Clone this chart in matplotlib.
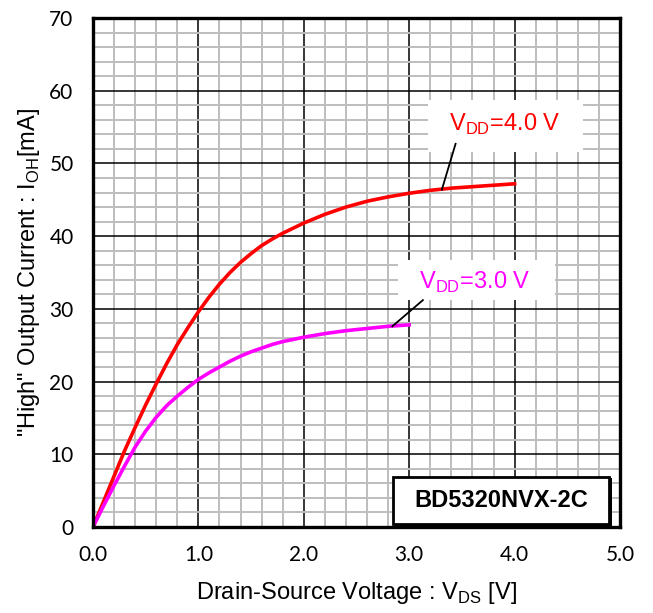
import matplotlib
matplotlib.use("Agg")
import matplotlib.pyplot as plt
from matplotlib.patches import Rectangle
from matplotlib.ticker import MultipleLocator, FormatStrFormatter

vds_40 = [0, 0.1, 0.2, 0.3, 0.4, 0.5, 0.6, 0.7, 0.8, 0.9, 1.0, 1.1, 1.2, 1.3,
          1.4, 1.5, 1.6, 1.7, 1.8, 1.9, 2.0, 2.2, 2.4, 2.6, 2.8, 3.0, 3.2,
          3.4, 3.6, 3.8, 4.0]
ioh_40 = [0, 3.5, 7.0, 10.5, 13.7, 16.8, 19.7, 22.5, 25.1, 27.4, 29.6, 31.6,
          33.4, 35.0, 36.4, 37.6, 38.7, 39.6, 40.4, 41.1, 41.8, 43.0, 44.0,
          44.8, 45.4, 45.9, 46.3, 46.6, 46.8, 47.0, 47.2]

vds_30 = [0, 0.1, 0.2, 0.3, 0.4, 0.5, 0.6, 0.7, 0.8, 0.9, 1.0, 1.1, 1.2, 1.3,
          1.4, 1.5, 1.6, 1.7, 1.8, 1.9, 2.0, 2.2, 2.4, 2.6, 2.8, 3.0]
ioh_30 = [0, 2.9, 5.7, 8.4, 11.0, 13.2, 15.1, 16.7, 18.0, 19.2, 20.3, 21.2,
          22.0, 22.8, 23.5, 24.1, 24.6, 25.1, 25.5, 25.8, 26.1, 26.6, 27.0,
          27.3, 27.6, 27.8]

label_40 = r'V$_{\mathregular{DD}}$=4.0 V'
label_30 = r'V$_{\mathregular{DD}}$=3.0 V'
part_name = 'BD5320NVX-2C'

# tick labels in Lato, everything else in an Arial-like face
plt.rcParams['font.family'] = ['Lato', 'DejaVu Sans']
txt_font = ['Liberation Sans', 'DejaVu Sans']

fig = plt.figure(figsize=(6.53, 6.13), dpi=100)
ax = fig.add_axes([93 / 653, 1 - 527 / 613, 527 / 653, 509 / 613])

ax.set_xlim(0, 5)
ax.set_ylim(0, 70)
ax.xaxis.set_major_locator(MultipleLocator(1.0))
ax.xaxis.set_minor_locator(MultipleLocator(0.2))
ax.yaxis.set_major_locator(MultipleLocator(10))
ax.yaxis.set_minor_locator(MultipleLocator(2))
ax.xaxis.set_major_formatter(FormatStrFormatter('%.1f'))

ax.grid(True, which='minor', color='#bdbdbd', linewidth=1.4)
ax.grid(True, which='major', color='black', linewidth=1.1)
ax.set_axisbelow(True)

ax.tick_params(which='both', length=0, labelsize=15)
ax.tick_params(axis='x', pad=13)
ax.tick_params(axis='y', pad=14)

for sp in ax.spines.values():
    sp.set_linewidth(2.4)
    sp.set_zorder(5)

ax.plot(vds_40, ioh_40, color='#ff0000', linewidth=2.6, zorder=3,
        solid_joinstyle='round')
ax.plot(vds_30, ioh_30, color='#ff00ff', linewidth=2.6, zorder=3,
        solid_joinstyle='round')

# labels with leader lines
ax.add_patch(Rectangle((3.18, 51.6), 1.47, 7.1, facecolor='white',
                       edgecolor='none', zorder=3))
ax.plot([3.44, 3.31], [52.7, 46.4], color='black', linewidth=1.3, zorder=4)
ax.text(3.91, 55.3, label_40, color='#ff0000', fontsize=17, family=txt_font,
        ha='center', va='center', zorder=4)

ax.add_patch(Rectangle((2.89, 31.2), 1.49, 5.5, facecolor='white',
                       edgecolor='none', zorder=3))
ax.plot([3.13, 2.84], [31.2, 27.6], color='black', linewidth=1.3, zorder=4)
ax.text(3.62, 33.7, label_30, color='#ff00ff', fontsize=17, family=txt_font,
        ha='center', va='center', zorder=4)

# part number box with a small drop shadow
ax.add_patch(Rectangle((2.87, 0.2), 2.05, 6.5, facecolor='black',
                       edgecolor='none', zorder=4))
ax.add_patch(Rectangle((2.85, 0.4), 2.05, 6.5, facecolor='white',
                       edgecolor='black', linewidth=2.0, zorder=4))
ax.text(3.87, 3.65, part_name, fontsize=17, fontweight='bold', family=txt_font,
        ha='center', va='center', zorder=5)

ax.set_xlabel(r'Drain-Source Voltage : V$_{\mathregular{DS}}$ [V]',
              fontsize=17, family=txt_font, labelpad=11)
ax.set_ylabel(r'"High" Output Current : I$_{\mathregular{OH}}$[mA]',
              fontsize=17, family=txt_font, labelpad=5)

fig.savefig('out.png', dpi=100)
